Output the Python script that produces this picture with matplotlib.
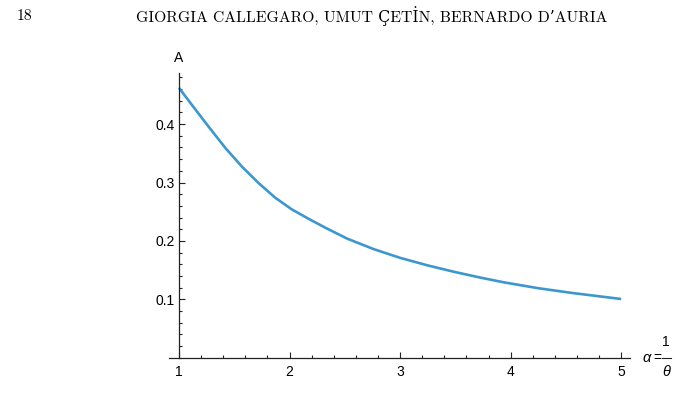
import numpy as np
import matplotlib
matplotlib.use("Agg")
import matplotlib.pyplot as plt
from matplotlib.lines import Line2D
from matplotlib.ticker import MultipleLocator

alpha = [1.0, 1.12, 1.27, 1.42, 1.57, 1.72, 1.87, 2.02, 2.18, 2.33, 2.52,
         2.76, 3.0, 3.25, 3.49, 3.73, 3.94, 4.25, 4.55, 4.85, 5.0]
A = [0.462, 0.432, 0.395, 0.359, 0.327, 0.299, 0.274, 0.254, 0.237, 0.222, 0.204,
     0.186, 0.171, 0.158, 0.147, 0.137, 0.129, 0.119, 0.111, 0.104, 0.1005]

x_ticks = [1, 2, 3, 4, 5]
y_ticks = [0.1, 0.2, 0.3, 0.4]
header_page = "18"
header_authors = "GIORGIA CALLEGARO, UMUT ÇETİN, BERNARDO D’AURIA"

plt.rcParams['font.family'] = ['Liberation Sans', 'DejaVu Sans']

W, H = 696, 407
fig = plt.figure(figsize=(W / 100, H / 100), dpi=100)
ax = fig.add_axes([169.3 / W, 1 - 357.7 / H, (630 - 169.3) / W, (357.7 - 73.3) / H])

ax.plot(alpha, A, color='#3c97cf', lw=1.9, solid_capstyle='butt', solid_joinstyle='round')

ax.set_xlim(0.912, 5.08)
ax.set_ylim(0, 0.487)
ax.spines['left'].set_position(('data', 1))
ax.spines['bottom'].set_position(('data', 0))
ax.spines['top'].set_visible(False)
ax.spines['right'].set_visible(False)
for s in ['left', 'bottom']:
    ax.spines[s].set_linewidth(0.9)
    ax.spines[s].set_color('#222222')

ax.set_xticks(x_ticks)
ax.set_yticks(y_ticks)
ax.set_yticklabels([f"{v:.1f}" for v in y_ticks])
ax.xaxis.set_minor_locator(MultipleLocator(0.2))
ax.yaxis.set_minor_locator(MultipleLocator(0.02))
ax.tick_params(which='both', direction='in', color='#222222', labelsize=10, width=0.8)
ax.tick_params(which='major', length=4.5)
ax.tick_params(which='minor', length=2.5)
ax.tick_params(axis='x', pad=5)
ax.tick_params(axis='y', pad=3)

def px(x, y, s, **kw):
    fig.text(x / W, 1 - y / H, s, **kw)

# axis labels
px(178.5, 58.5, 'A', ha='center', va='center', fontsize=10)
px(646.5, 358, 'α', ha='center', va='center', fontsize=10.5, style='italic')
px(657, 358, '=', ha='center', va='center', fontsize=10)
px(666, 342.5, '1', ha='center', va='center', fontsize=10)
px(666, 372.5, 'θ', ha='center', va='center', fontsize=10.5, style='italic')
fig.add_artist(Line2D([661.5 / W, 670.5 / W], [1 - 358 / H, 1 - 358 / H],
                      color='#222222', lw=0.8))

# page header
px(17, 16, header_page, ha='left', va='center',
   fontsize=11.3, family=['cmr10', 'DejaVu Serif'])
px(372, 16, header_authors, ha='center', va='center',
   fontsize=11.3, family=['cmr10', 'DejaVu Serif'])

fig.savefig('out.png', dpi=100)
